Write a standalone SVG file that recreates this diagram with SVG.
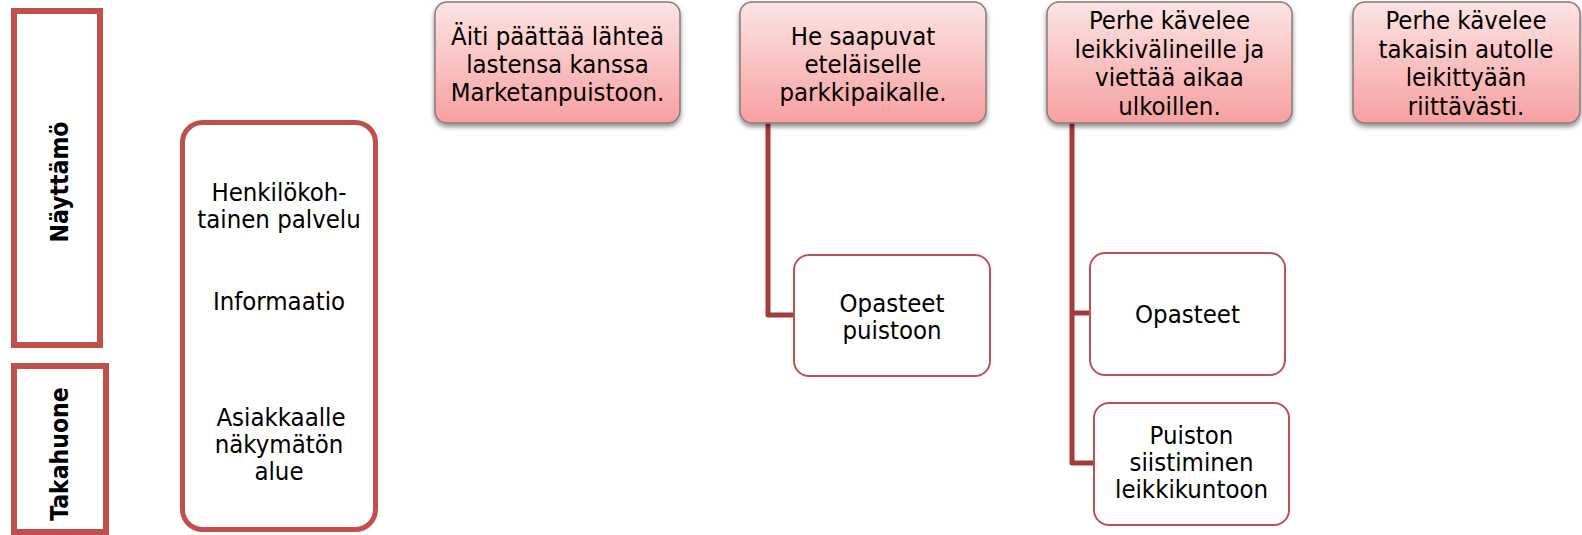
<svg xmlns="http://www.w3.org/2000/svg" width="1582" height="535" viewBox="0 0 1582 535">
  <defs>
    <linearGradient id="stepFill" x1="0" y1="0" x2="0" y2="1">
      <stop offset="0" stop-color="#fde4e4"/>
      <stop offset="1" stop-color="#f7a0a0"/>
    </linearGradient>
    <filter id="softShadow" x="-10%" y="-10%" width="120%" height="130%">
      <feDropShadow dx="0" dy="3" stdDeviation="2.5" flood-color="#000000" flood-opacity="0.45"/>
    </filter>
    <style>
      text { font-family: "DejaVu Sans Condensed", "DejaVu Sans", sans-serif; font-stretch: semi-condensed; font-size: 25.5px; fill: #000000; text-anchor: middle; }
      .lane { fill: #ffffff; stroke: #c0504d; stroke-width: 6; }
      .laneLabel { font-weight: bold; font-size: 24.5px; }
      .legend { fill: #ffffff; stroke: #c0504d; stroke-width: 5; }
      .step { fill: url(#stepFill); stroke: #8a7a7a; stroke-width: 1.5; filter: url(#softShadow); }
      .sub { fill: #ffffff; stroke: #c0504d; stroke-width: 2; }
      .link { fill: none; stroke: #a03c3c; stroke-width: 5; stroke-linejoin: round; }
    </style>
  </defs>

  <!-- swimlane headers -->
  <g id="lane-nayttamo">
    <rect class="lane" x="14" y="11" width="86" height="334"/>
    <text class="laneLabel" transform="translate(68,182) rotate(-90)">Näyttämö</text>
  </g>
  <g id="lane-takahuone">
    <rect class="lane" x="14" y="366" width="92" height="166"/>
    <text class="laneLabel" transform="translate(68,454) rotate(-90)">Takahuone</text>
  </g>

  <!-- legend column -->
  <g id="legend">
    <rect class="legend" x="182.5" y="122.5" width="193" height="407" rx="20" ry="20"/>
    <text x="279" y="200.5">Henkilökoh-</text>
    <text x="279" y="227.5">tainen palvelu</text>
    <text x="279" y="310">Informaatio</text>
    <text x="281" y="425.5">Asiakkaalle</text>
    <text x="279" y="452.5">näkymätön</text>
    <text x="279" y="479.5">alue</text>
  </g>

  <!-- connectors -->
  <g id="connectors">
    <path class="link" d="M768,123 V315 H794"/>
    <path class="link" d="M1072,123 V463 H1094 M1072,313 H1090"/>
  </g>

  <!-- customer steps -->
  <g id="step1">
    <rect class="step" x="435" y="2" width="245" height="121" rx="12" ry="12"/>
    <text x="557.5" y="45">Äiti päättää lähteä</text>
    <text x="557.5" y="73">lastensa kanssa</text>
    <text x="557.5" y="101">Marketanpuistoon.</text>
  </g>
  <g id="step2">
    <rect class="step" x="740" y="2" width="246" height="121" rx="12" ry="12"/>
    <text x="863" y="45">He saapuvat</text>
    <text x="863" y="73">eteläiselle</text>
    <text x="863" y="101">parkkipaikalle.</text>
  </g>
  <g id="step3">
    <rect class="step" x="1047" y="2" width="245" height="121" rx="12" ry="12"/>
    <text x="1169.5" y="29">Perhe kävelee</text>
    <text x="1169.5" y="57.5">leikkivälineille ja</text>
    <text x="1169.5" y="86">viettää aikaa</text>
    <text x="1169.5" y="114.5">ulkoillen.</text>
  </g>
  <g id="step4">
    <rect class="step" x="1353" y="2" width="227" height="121" rx="12" ry="12"/>
    <text x="1466" y="29">Perhe kävelee</text>
    <text x="1466" y="57.5">takaisin autolle</text>
    <text x="1466" y="86">leikittyään</text>
    <text x="1466" y="114.5">riittävästi.</text>
  </g>

  <!-- touchpoints -->
  <g id="sub-opasteet-puistoon">
    <rect class="sub" x="794" y="255" width="196" height="121" rx="15" ry="15"/>
    <text x="892" y="312">Opasteet</text>
    <text x="892" y="339">puistoon</text>
  </g>
  <g id="sub-opasteet">
    <rect class="sub" x="1090" y="253" width="195" height="122" rx="15" ry="15"/>
    <text x="1187.5" y="323">Opasteet</text>
  </g>
  <g id="sub-siistiminen">
    <rect class="sub" x="1094" y="403" width="195" height="122" rx="15" ry="15"/>
    <text x="1191.5" y="444">Puiston</text>
    <text x="1191.5" y="471">siistiminen</text>
    <text x="1191.5" y="498">leikkikuntoon</text>
  </g>
</svg>
